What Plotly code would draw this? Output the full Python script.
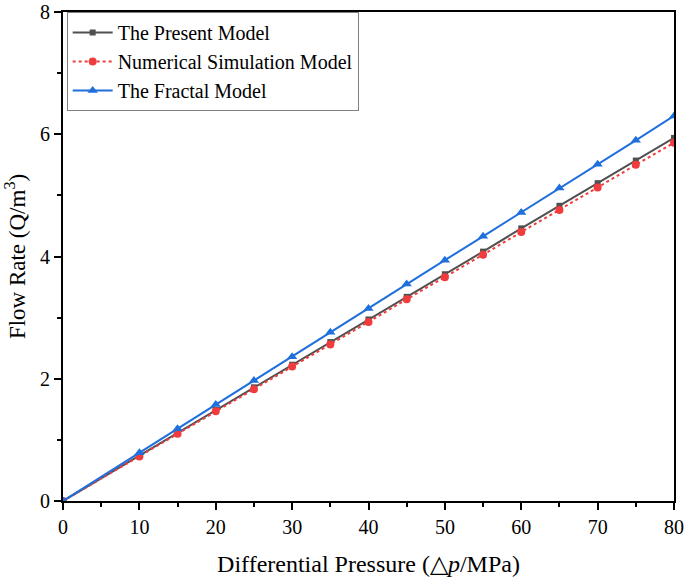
import plotly.graph_objects as go

pressure = [0, 10, 15, 20, 25, 30, 35, 40, 45, 50, 55, 60, 65, 70, 75, 80]
present_model = [0, 0.74, 1.11, 1.49, 1.86, 2.23, 2.60, 2.97, 3.34, 3.71, 4.08, 4.46, 4.83, 5.20, 5.57, 5.94]
numerical_model = [0, 0.73, 1.10, 1.47, 1.83, 2.20, 2.56, 2.93, 3.30, 3.66, 4.03, 4.40, 4.76, 5.13, 5.50, 5.86]
fractal_model = [0, 0.79, 1.18, 1.58, 1.97, 2.36, 2.76, 3.15, 3.55, 3.94, 4.33, 4.72, 5.12, 5.51, 5.90, 6.30]

x_ticks = [0, 10, 20, 30, 40, 50, 60, 70, 80]
y_ticks = [0, 2, 4, 6, 8]

font_family = "Liberation Serif"

fig = go.Figure()
fig.add_trace(go.Scatter(
    x=pressure, y=present_model, name="The Present Model", mode="lines+markers",
    line=dict(color="#505050", width=2), marker=dict(symbol="square", size=6, color="#505050")))
fig.add_trace(go.Scatter(
    x=pressure, y=numerical_model, name="Numerical Simulation Model", mode="lines+markers",
    line=dict(color="#f03c3c", width=2, dash="dot"), marker=dict(symbol="circle", size=8, color="#f03c3c")))
fig.add_trace(go.Scatter(
    x=pressure, y=fractal_model, name="The Fractal Model", mode="lines+markers",
    line=dict(color="#1f6fdc", width=2), marker=dict(symbol="triangle-up", size=9, color="#1f6fdc")))

axis_common = dict(
    showgrid=False, zeroline=False, showline=True, linecolor="black", linewidth=2,
    mirror=True, ticks="outside", ticklen=7, tickwidth=1.5, tickcolor="black",
    tickfont=dict(family=font_family, size=20, color="black"), automargin=False,
)

fig.update_xaxes(range=[0, 80], tickvals=x_ticks,
                 minor=dict(ticks="outside", ticklen=4, tickwidth=1.5, tickcolor="black", dtick=5, tick0=0),
                 title=dict(text="Differential Pressure (△<i>p</i>/MPa)",
                            font=dict(family=font_family, size=24, color="black"), standoff=18),
                 **axis_common)
fig.update_yaxes(range=[0, 8], tickvals=y_ticks,
                 minor=dict(ticks="outside", ticklen=4, tickwidth=1.5, tickcolor="black", dtick=1, tick0=0),
                 title=dict(text="Flow Rate (Q/m<sup>3</sup>)",
                            font=dict(family=font_family, size=23, color="black"), standoff=8),
                 **axis_common)

fig.update_layout(
    width=685, height=583,
    margin=dict(l=63, r=11, t=12, b=82),
    paper_bgcolor="white", plot_bgcolor="white",
    showlegend=True,
    legend=dict(x=0.006, y=1.0, xanchor="left", yanchor="top",
                bgcolor="white", bordercolor="#808080", borderwidth=1,
                font=dict(family=font_family, size=20, color="black"),
                tracegroupgap=0, itemwidth=40),
)

fig.write_html("out.html", config={"displayModeBar": False},
               post_script="document.body.style.margin='0';document.body.style.overflow='hidden';")
